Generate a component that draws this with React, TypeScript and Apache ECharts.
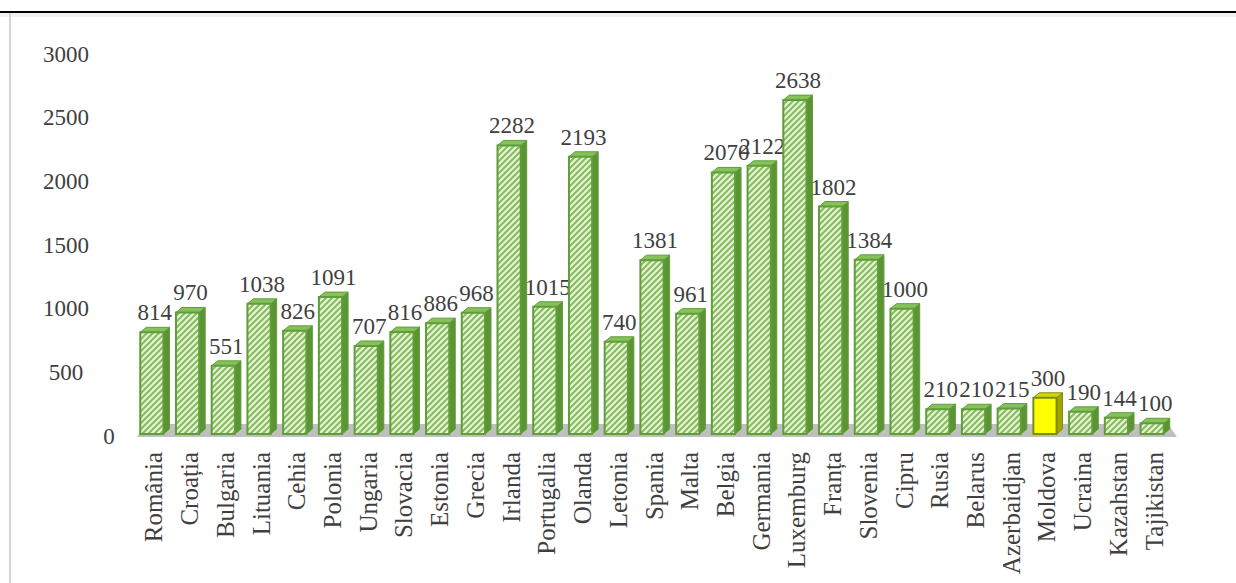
import React, { useEffect, useRef } from "react";
import * as echarts from "echarts";

const categories = [
  "România", "Croația", "Bulgaria", "Lituania", "Cehia", "Polonia", "Ungaria",
  "Slovacia", "Estonia", "Grecia", "Irlanda", "Portugalia", "Olanda", "Letonia",
  "Spania", "Malta", "Belgia", "Germania", "Luxemburg", "Franța", "Slovenia",
  "Cipru", "Rusia", "Belarus", "Azerbaidjan", "Moldova", "Ucraina", "Kazahstan",
  "Tajikistan",
];
const values = [
  814, 970, 551, 1038, 826, 1091, 707, 816, 886, 968, 2282, 1015, 2193, 740,
  1381, 961, 2070, 2122, 2638, 1802, 1384, 1000, 210, 210, 215, 300, 190, 144, 100,
];
const highlighted = ["Moldova"];
const yTicks = [0, 500, 1000, 1500, 2000, 2500, 3000];

const W = 1236;
const H = 583;
const GRID_LEFT = 136;
const GRID_RIGHT = 64;
const GRID_TOP = 54;
const GRID_BOTTOM = 147;

function makePattern(): HTMLCanvasElement {
  const s = 6;
  const c = document.createElement("canvas");
  c.width = s;
  c.height = s;
  const ctx = c.getContext("2d")!;
  ctx.fillStyle = "#e6f2d8";
  ctx.fillRect(0, 0, s, s);
  ctx.strokeStyle = "#86bd5c";
  ctx.lineWidth = 2;
  ctx.beginPath();
  ctx.moveTo(-1, s + 1);
  ctx.lineTo(s + 1, -1);
  ctx.moveTo(-2, 2);
  ctx.lineTo(2, -2);
  ctx.moveTo(s - 2, s + 2);
  ctx.lineTo(s + 2, s - 2);
  ctx.stroke();
  return c;
}

export default function App() {
  const ref = useRef<HTMLDivElement>(null);
  useEffect(() => {
    if (!ref.current) return;
    const chart = echarts.init(ref.current, null, { renderer: "svg" });
    const pattern = { image: makePattern(), repeat: "repeat" };
    const font = "Liberation Serif";
    const gridR = W - GRID_RIGHT;
    const gridB = H - GRID_BOTTOM;

    chart.setOption({
      animation: false,
      backgroundColor: "#ffffff",
      grid: { left: GRID_LEFT, right: GRID_RIGHT, top: GRID_TOP, bottom: GRID_BOTTOM },
      graphic: [
        {
          type: "rect",
          z: 0,
          shape: { x: 0, y: 13, width: W, height: 4 },
          style: { fill: "#f0f0f0" },
        },
        {
          type: "line",
          z: 1,
          shape: { x1: 0, y1: 12, x2: W, y2: 12 },
          style: { stroke: "#000000", lineWidth: 2 },
        },
        {
          type: "line",
          z: 1,
          shape: { x1: 10, y1: 13, x2: 10, y2: H },
          style: { stroke: "#d4d4d4", lineWidth: 2 },
        },
        {
          type: "polygon",
          z: 0,
          shape: {
            points: [
              [GRID_LEFT + 1, gridB + 1],
              [GRID_LEFT + 9, gridB - 12],
              [gridR - 4, gridB - 12],
              [gridR + 5, gridB + 1],
            ],
          },
          style: { fill: "#bfbfbf" },
        },
      ],
      xAxis: {
        type: "category",
        data: categories,
        axisLine: { show: false },
        axisTick: { show: false },
        axisLabel: {
          rotate: 90,
          interval: 0,
          margin: 16,
          fontFamily: font,
          fontSize: 25,
          color: "#404040",
        },
      },
      yAxis: {
        type: "value",
        min: 0,
        max: 3000,
        interval: 500,
        splitLine: { show: false },
        axisLine: { show: false },
        axisTick: { show: false },
        axisLabel: {
          align: "center",
          margin: 70,
          fontFamily: font,
          fontSize: 23,
          color: "#404040",
          formatter: (v: number) => (v === yTicks[0] ? "{z|" + v + "}" : String(v)),
          rich: {
            z: { padding: [0, 0, 0, 86], fontFamily: font, fontSize: 23, color: "#404040" },
          },
        },
      },
      series: [
        {
          type: "custom",
          clip: false,
          z: 5,
          data: values.map((v, i) => [i, v]),
          encode: { x: 0, y: 1 },
          renderItem: (params: any, api: any) => {
            const idx = api.value(0);
            const v = api.value(1);
            const top = api.coord([idx, v]);
            const base = api.coord([idx, 0]);
            const band = api.size([1, 0])[0];
            const w = band * 0.65;
            const dx = 6;
            const dy = 5;
            const x0 = top[0] - w / 2 - 2;
            const x1 = x0 + w;
            const yT = top[1];
            const yB = base[1] - 2;
            const hl = highlighted.indexOf(categories[idx]) >= 0;
            const edge = hl ? "#7a8c1a" : "#5f9e3a";
            const sideFill = hl ? "#a3a300" : "#5c9434";
            const topFill = hl ? "#d6d600" : "#86c15a";
            const frontFill = hl ? "#ffff00" : pattern;
            return {
              type: "group",
              children: [
                {
                  type: "polygon",
                  shape: { points: [[x1, yB], [x1, yT], [x1 + dx, yT - dy], [x1 + dx, yB - dy]] },
                  style: { fill: sideFill, stroke: edge, lineWidth: 1 },
                },
                {
                  type: "polygon",
                  shape: { points: [[x0, yT], [x1, yT], [x1 + dx, yT - dy], [x0 + dx, yT - dy]] },
                  style: { fill: topFill, stroke: edge, lineWidth: 1 },
                },
                {
                  type: "rect",
                  shape: { x: x0, y: yT, width: w, height: yB - yT },
                  style: { fill: frontFill, stroke: edge, lineWidth: 2 },
                },
                {
                  type: "text",
                  x: x0 + w / 2 + 3,
                  y: yT - dy - 3,
                  style: {
                    text: String(v),
                    fill: "#404040",
                    fontFamily: font,
                    fontSize: 23,
                    align: "center",
                    verticalAlign: "bottom",
                  },
                },
              ],
            };
          },
        },
      ],
    });
    return () => chart.dispose();
  }, []);
  return (
    <div
      ref={ref}
      style={{ position: "fixed", left: 0, top: 0, width: W, height: H }}
    />
  );
}
